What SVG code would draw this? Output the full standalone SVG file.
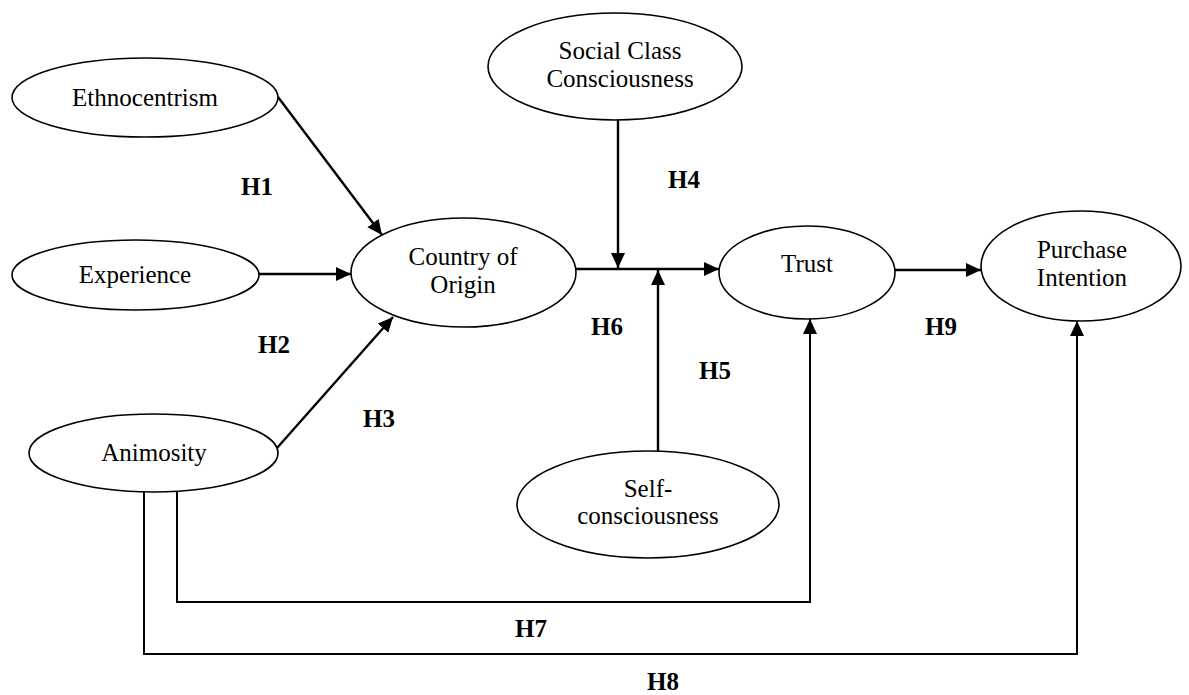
<svg xmlns="http://www.w3.org/2000/svg" width="1189" height="695" viewBox="0 0 1189 695">
<style>
.node ellipse{fill:#fff;stroke:#000;stroke-width:1.6}
.node text{font-family:"Liberation Serif","Times New Roman",serif;font-size:25px;fill:#000;text-anchor:middle}
.lbl{font-family:"Liberation Serif","Times New Roman",serif;font-size:25px;font-weight:bold;fill:#000}
.conn{fill:none;stroke:#000;stroke-width:2.4}
.thin{fill:none;stroke:#000;stroke-width:2}
</style>
<defs>
<marker id="ah" markerUnits="userSpaceOnUse" markerWidth="16" markerHeight="15" refX="15" refY="7" orient="auto">
<path d="M0,0 L15,7 L0,14 z" fill="#000"/>
</marker>
</defs>
<rect width="1189" height="695" fill="#fff"/>
<g id="connectors">
<line class="conn" x1="278" y1="97" x2="382" y2="235" marker-end="url(#ah)"/>
<line class="conn" x1="259" y1="274" x2="351" y2="274" marker-end="url(#ah)"/>
<line class="conn" x1="277" y1="448" x2="393" y2="317" marker-end="url(#ah)"/>
<line class="conn" x1="576" y1="269" x2="719" y2="269" marker-end="url(#ah)"/>
<line class="conn" x1="618" y1="120" x2="618" y2="268" marker-end="url(#ah)"/>
<line class="conn" x1="658" y1="451" x2="658" y2="270" marker-end="url(#ah)"/>
<line class="conn" x1="895" y1="270" x2="981" y2="270" marker-end="url(#ah)"/>
<polyline class="thin" points="177,492 177,602 810,602 810,319" marker-end="url(#ah)"/>
<polyline class="thin" points="144,492 144,654 1077,654 1077,321" marker-end="url(#ah)"/>
</g>
<g id="ethnocentrism" class="node"><ellipse cx="145" cy="97.5" rx="133" ry="39.5"/><text x="145" y="106">Ethnocentrism</text></g>
<g id="experience" class="node"><ellipse cx="135.5" cy="275" rx="123.5" ry="35"/><text x="135" y="283">Experience</text></g>
<g id="animosity" class="node"><ellipse cx="153.5" cy="453" rx="124.5" ry="39"/><text x="154" y="461">Animosity</text></g>
<g id="country-of-origin" class="node"><ellipse cx="463.5" cy="272.5" rx="112.5" ry="54.5"/><text x="463" y="265">Country of</text><text x="463" y="293">Origin</text></g>
<g id="social-class-consciousness" class="node"><ellipse cx="615" cy="66.5" rx="127" ry="53.5"/><text x="620" y="59">Social Class</text><text x="620" y="87">Consciousness</text></g>
<g id="self-consciousness" class="node"><ellipse cx="648" cy="504.5" rx="131" ry="53.5"/><text x="648" y="497">Self-</text><text x="648" y="524">consciousness</text></g>
<g id="trust" class="node"><ellipse cx="807" cy="272.5" rx="88" ry="46.5"/><text x="807" y="272">Trust</text></g>
<g id="purchase-intention" class="node"><ellipse cx="1081" cy="266" rx="100" ry="55"/><text x="1082" y="258">Purchase</text><text x="1082" y="286">Intention</text></g>
<g id="labels">
<text class="lbl" x="241" y="195">H1</text>
<text class="lbl" x="258" y="353">H2</text>
<text class="lbl" x="363" y="427">H3</text>
<text class="lbl" x="668" y="188">H4</text>
<text class="lbl" x="699" y="379">H5</text>
<text class="lbl" x="591" y="335">H6</text>
<text class="lbl" x="515" y="637">H7</text>
<text class="lbl" x="647" y="690">H8</text>
<text class="lbl" x="925" y="335">H9</text>
</g>
</svg>
